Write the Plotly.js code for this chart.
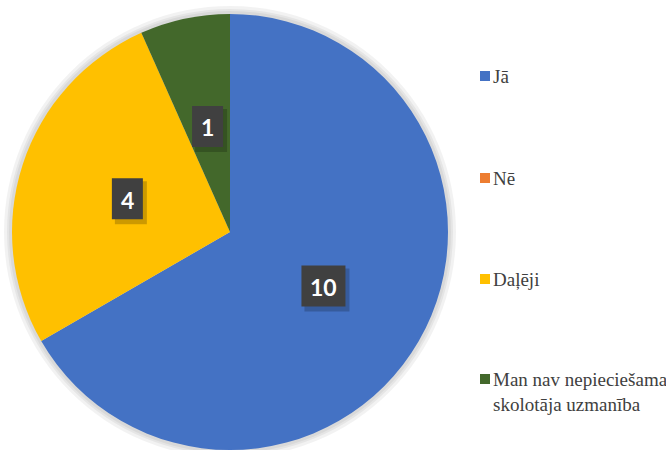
<!DOCTYPE html>
<html><head><meta charset="utf-8">
<script src="https://cdn.plot.ly/plotly-3.0.1.min.js"></script>
<style>html,body{margin:0;padding:0;background:#fff}#c{width:666px;height:450px}</style>
</head><body><div id="c"></div>
<script>
const labels = ["Jā", "Nē", "Daļēji", "Man nav nepiecie\u0161ama<br>skolotāja uzmanība"];
const values = [10, 0, 4, 1];
const colors = ["#4472C4", "#ED7D31", "#FFC000", "#43682B"];

const W = 666, H = 450;
const cxPx = 230, cyPx = 232, R = 218;
const domX = [(cxPx - R) / W, (cxPx + R) / W];
const domY = [1 - (cyPx + R) / H, 1 - (cyPx - R) / H];
const px = x => x / W, py = y => 1 - y / H;

const total = values.reduce((a, b) => a + b, 0);
const annotations = [];
const shapes = [];
[8, 5, 3].forEach(s => {
  shapes.push({type: 'circle', xref: 'paper', yref: 'paper', layer: 'below',
    x0: px(cxPx - R - s), x1: px(cxPx + R + s),
    y0: py(cyPx + R + s), y1: py(cyPx - R - s),
    fillcolor: 'rgba(0,0,0,0.05)', line: {width: 0}});
});
let cum = 0;
values.forEach((v, i) => {
  const mid = (cum + v / 2) / total * 2 * Math.PI;
  cum += v;
  if (v <= 0) return;
  const r = 0.495 * R;
  const x = cxPx + r * Math.sin(mid);
  const y = cyPx - r * Math.cos(mid);
  const bw = 18 + 13 * String(v).length, bh = 41;
  shapes.push({type: 'rect', xref: 'paper', yref: 'paper', layer: 'above',
    x0: px(x - bw / 2 + 3), x1: px(x + bw / 2 + 4), y0: py(y + bh / 2 + 5), y1: py(y - bh / 2 + 3),
    fillcolor: 'rgba(0,0,0,0.2)', line: {width: 0}});
  shapes.push({type: 'rect', xref: 'paper', yref: 'paper', layer: 'above',
    x0: px(x - bw / 2), x1: px(x + bw / 2), y0: py(y + bh / 2), y1: py(y - bh / 2),
    fillcolor: '#404040', line: {width: 0}});
  annotations.push({xref: 'paper', yref: 'paper', x: px(x), y: py(y + 1),
    text: '<b>' + v + '</b>', showarrow: false,
    font: {family: 'Lato', size: 23, color: '#ffffff'},
    xanchor: 'center', yanchor: 'middle'});
});
const legY = [76, 178, 279, 379];
labels.forEach((lab, i) => {
  const y = legY[i];
  shapes.push({type: 'rect', xref: 'paper', yref: 'paper',
    x0: px(480), x1: px(490), y0: py(y + 5), y1: py(y - 5),
    fillcolor: colors[i], line: {width: 0}});
  annotations.push({xref: 'paper', yref: 'paper', x: px(491), y: py(y - 12),
    text: lab, showarrow: false, align: 'left', xanchor: 'left', yanchor: 'top',
    font: {family: 'Liberation Serif, Times New Roman, serif', size: 19, color: '#404040'}});
});

const data = [{
  type: 'pie', labels: labels, values: values, sort: false, direction: 'clockwise',
  rotation: 0, marker: {colors: colors, line: {width: 0}}, textinfo: 'none',
  hoverinfo: 'label+value', showlegend: false, domain: {x: domX, y: domY}
}];
const layout = {width: W, height: H, margin: {l: 0, r: 0, t: 0, b: 0},
  paper_bgcolor: '#fff', showlegend: false, annotations: annotations, shapes: shapes};
Plotly.newPlot('c', data, layout, {displayModeBar: false, staticPlot: true});
</script></body></html>
